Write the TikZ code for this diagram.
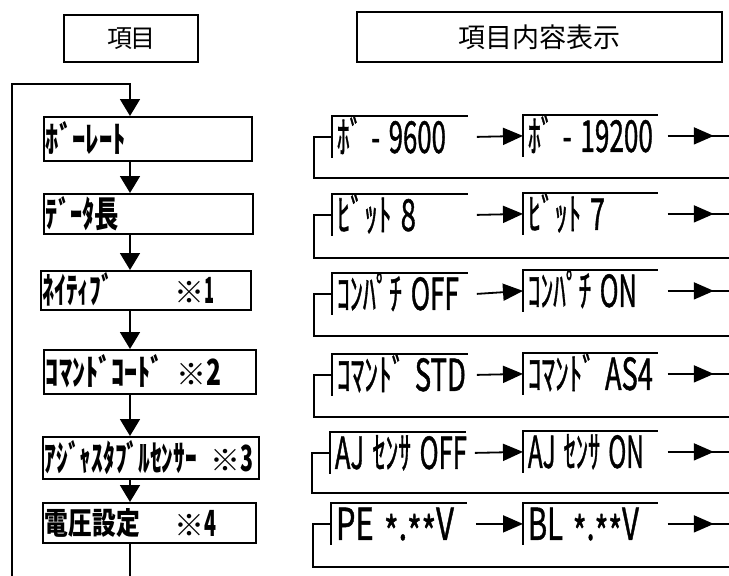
\documentclass[tikz,border=0pt]{standalone}
\usepackage{fontspec}
\usepackage{graphicx}
\newfontfamily\jp{Noto Sans CJK JP}
\newfontfamily\jpm[FakeBold=1.2]{Noto Sans CJK JP}
\usetikzlibrary{arrows.meta}
\newcommand\mast{\raisebox{-9pt}{*}}
\newcommand\komej[2]{\kern-6pt\resizebox{30pt}{!}{※}\resizebox{#1}{\height}{#2}}
\tikzset{
  larr/.style={-{Triangle[length=17pt,width=20pt]}},
  rarr/.style={-{Triangle[length=20pt,width=17pt]}},
  itembox/.style={draw, rectangle, anchor=north west, inner xsep=2pt, inner ysep=0pt, align=left,
    text height=30pt, text depth=3pt, font=\jp\bfseries\fontsize{36}{38}\selectfont},
  valtext/.style={anchor=north west, inner xsep=4pt, inner ysep=0pt, minimum height=40pt,
    text height=36pt, text depth=4pt, text width=135pt, align=left, font=\jpm\fontsize{44}{46}\selectfont},
  headbox/.style={draw, rectangle, inner sep=0pt}
}
\begin{document}
\begin{tikzpicture}[x=1pt,y=-1pt,line width=1.8pt]
\useasboundingbox (0,0) rectangle (729,576);
% headers
\node[headbox, minimum width=134pt, minimum height=47pt, font=\jp\fontsize{25}{27}\selectfont] (h1) at (131,38.5) {項\kern-2pt目};
\node[headbox, minimum width=365pt, minimum height=50pt, font=\jp\fontsize{27}{29}\selectfont] (h2) at (539.5,37) {項目内容表示};
% left boxes
\node[itembox, text width=204pt, minimum height=44pt] (b1) at (43,116) {\resizebox{80pt}{\height}{ﾎﾞｰﾚｰﾄ}};
\node[itembox, text width=205pt, minimum height=40pt] (b2) at (43,193) {\resizebox{73pt}{\height}{ﾃﾞｰﾀ長}};
\node[itembox, text width=206pt, minimum height=39pt] (b3) at (40,270) {\makebox[138pt][l]{\resizebox{70pt}{\height}{ﾈｲﾃｨﾌﾞ}}\komej{10pt}{1}};
\node[itembox, text width=208pt, minimum height=44pt] (b4) at (43,349) {\makebox[137pt][l]{\resizebox{118pt}{\height}{ｺﾏﾝﾄﾞｺｰﾄﾞ}}\komej{15pt}{2}};
\node[itembox, text width=212pt, minimum height=42pt] (b5) at (42,436) {\makebox[172pt][l]{\resizebox{152pt}{\height}{ｱｼﾞｬｽﾀﾌﾞﾙｾﾝｻｰ}}\komej{13pt}{3}};
\node[itembox, text width=209pt, minimum height=40pt] (b6) at (42,502) {\makebox[136pt][l]{\raisebox{2pt}{\resizebox{95pt}{26pt}{電圧設定}}}\komej{12pt}{4}};
% left flow
\coordinate (ax) at (130,0);
\coordinate (lt) at (12,84);
\coordinate (lb) at (12,576);
\draw[larr] (lb) -- (lt) -- (lt -| ax) -- (b1.north -| ax);
\draw[larr] (b1.south -| ax) -- (b2.north -| ax);
\draw[larr] (b2.south -| ax) -- (b3.north -| ax);
\draw[larr] (b3.south -| ax) -- (b4.north -| ax);
\draw[larr] (b4.south -| ax) -- (b5.north -| ax);
\draw[larr] (b5.south -| ax) -- (b6.north -| ax);
\draw (b6.south -| ax) -- (ax |- lb);
% right rows
\node[valtext] (r1a) at (332,116) {\resizebox{109pt}{\height}{ﾎﾞ - 9600}};
\node[valtext] (r1b) at (523,115) {\resizebox{125pt}{\height}{ﾎﾞ - 19200}};
\node[valtext] (r2a) at (332,194) {\resizebox{79pt}{\height}{ﾋﾞｯﾄ 8}};
\node[valtext] (r2b) at (523,193) {\resizebox{77pt}{\height}{ﾋﾞｯﾄ 7}};
\node[valtext] (r3a) at (332,273) {\resizebox{122pt}{\height}{ｺﾝﾊﾟﾁ OFF}};
\node[valtext] (r3b) at (523,270) {\resizebox{109pt}{\height}{ｺﾝﾊﾟﾁ ON}};
\node[valtext] (r4a) at (332,354) {\resizebox{129pt}{\height}{ｺﾏﾝﾄﾞ STD}};
\node[valtext] (r4b) at (523,353) {\resizebox{125pt}{\height}{ｺﾏﾝﾄﾞ AS4}};
\node[valtext] (r5a) at (330,432) {\resizebox{132pt}{\height}{AJ ｾﾝｻ OFF}};
\node[valtext] (r5b) at (523,431) {\resizebox{116pt}{\height}{AJ ｾﾝｻ ON}};
\node[valtext] (r6a) at (331,503) {\resizebox{118pt}{\height}{PE \mast.\mast\mast V}};
\node[valtext] (r6b) at (523,503) {\resizebox{111pt}{\height}{BL \mast.\mast\mast V}};
\coordinate (e1) at (729,178);
\coordinate (e2) at (729,258);
\coordinate (e3) at (729,336);
\coordinate (e4) at (729,417);
\coordinate (e5) at (729,493);
\coordinate (e6) at (729,567);
\foreach \i in {1,...,6}{
  \draw (r\i a.south west) -- (r\i a.north west) -- ++(136,0);
  \draw (r\i b.south west) -- (r\i b.north west) -- ++(135,0);
  \draw (r\i a.west) -- ++(-18,0) |- (e\i);
  \draw[rarr] (r\i a.east) -- (r\i b.west);
  \draw (r\i b.east) -- ++(63,0) coordinate (f\i);
  \draw[rarr] (r\i b.east) -- ++(46,0);
}
\end{tikzpicture}
\end{document}
